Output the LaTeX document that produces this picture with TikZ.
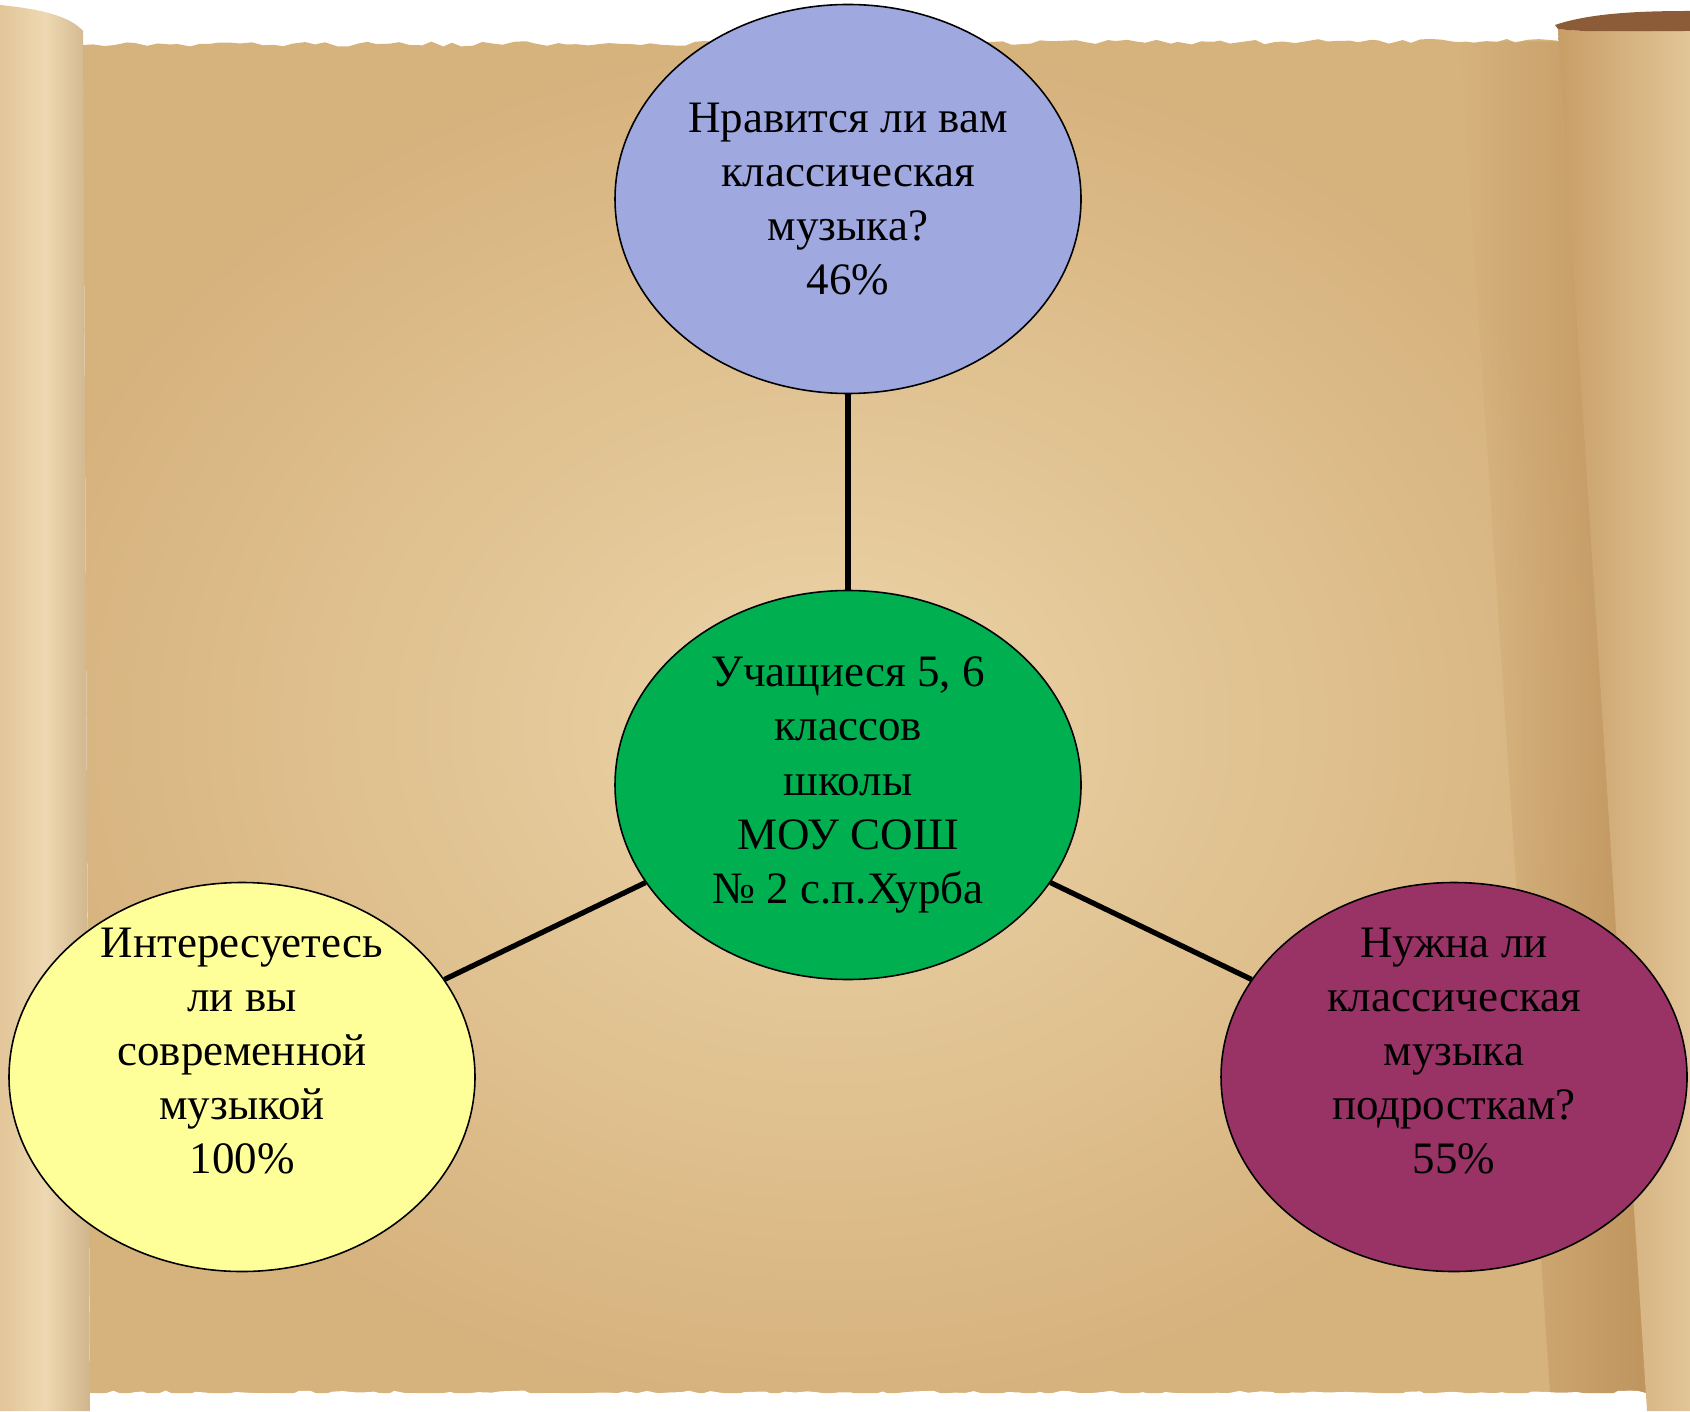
\documentclass[tikz,border=0pt]{standalone}
\usepackage{fontspec}
\setmainfont{Liberation Serif}
\usetikzlibrary{shapes.geometric,positioning,decorations.pathmorphing,fadings}
\definecolor{lilac}{RGB}{160,168,224}
\definecolor{leaf}{RGB}{0,176,80}
\definecolor{lemon}{RGB}{255,255,153}
\definecolor{plum}{RGB}{153,51,102}
\definecolor{paper}{RGB}{236,212,168}
\definecolor{paperdark}{RGB}{214,178,125}
\definecolor{rolllight}{RGB}{238,216,178}
\definecolor{rollmid}{RGB}{226,197,152}
\definecolor{rollshade}{RGB}{200,158,102}
\definecolor{rollrim}{RGB}{140,92,56}
\definecolor{shadow}{RGB}{185,140,85}
\tikzfading[name=toroll, left color=transparent!100, right color=transparent!0]
\begin{document}
\begin{tikzpicture}[node distance=3cm,on grid,
    bubble/.style={ellipse,draw=black,line width=0.45pt,minimum width=4.66cm,
      minimum height=3.89cm,inner sep=0pt,align=center,
      font=\fontsize{12.8}{15.4}\selectfont},
    lifted/.style={text depth=0.52cm,inner ysep=-0.26cm},
    link/.style={line width=1.5pt},
    torn/.style={decorate,decoration={random steps,segment length=3pt,amplitude=0.7pt}}]
  \useasboundingbox (0,0) rectangle (16.9,14.11);
  \pgfmathsetseed{7}
  % the scroll
  \shade[inner color=paper,outer color=paperdark]
    decorate[torn]{(0.83,13.66) -- (15.62,13.70)} -- (16.56,0.18) -- (0.90,0.18) -- cycle;
  \fill[shadow,path fading=toroll,fill opacity=0.8]
    (14.6,13.70) -- (15.62,13.70) -- (16.56,0.18) -- (15.5,0.18) -- cycle;
  \fill[white] decorate[torn]{(0.90,0.18) -- (16.56,0.18)} -- (16.56,0) -- (0.90,0) -- cycle;
  \shade[left color=rollmid,right color=rollmid!92!black,middle color=rolllight]
    (0,14.06) .. controls (0.4,14.02) and (0.7,13.95) .. (0.83,13.80) -- (0.90,0) -- (0,0) -- cycle;
  \shade[left color=rollshade,right color=rollmid]
    (15.58,13.82) -- (16.47,0) -- (16.9,0) -- (16.9,13.80)
    .. controls (16.4,13.80) and (15.9,13.78) .. (15.58,13.82);
  \fill[rollrim] (15.55,13.86) .. controls (15.9,13.98) and (16.4,14.0) .. (16.9,14.00)
    -- (16.9,13.80) .. controls (16.4,13.80) and (15.9,13.78) .. (15.58,13.82) -- cycle;
  % the survey
  \node[bubble,fill=leaf] (pupils) at (8.48,6.26)
    {Учащиеся 5, 6\\классов\\школы\\МОУ СОШ\\№ 2 с.п.Хурба};
  \node[bubble,fill=lilac] (likes) [above=5.86cm of pupils]
    {Нравится ли вам\\классическая\\музыка?\\46\%};
  \node[bubble,lifted,fill=lemon] (modern) [below left=2.92cm and 6.06cm of pupils]
    {Интересуетесь\\ли вы\\современной\\музыкой\\100\%};
  \node[bubble,lifted,fill=plum] (needs) [below right=2.92cm and 6.06cm of pupils]
    {Нужна ли\\классическая\\музыка\\подросткам?\\55\%};
  \path[link] (likes) edge (pupils)
    (pupils) edge (modern)
             edge (needs);
\end{tikzpicture}
\end{document}
